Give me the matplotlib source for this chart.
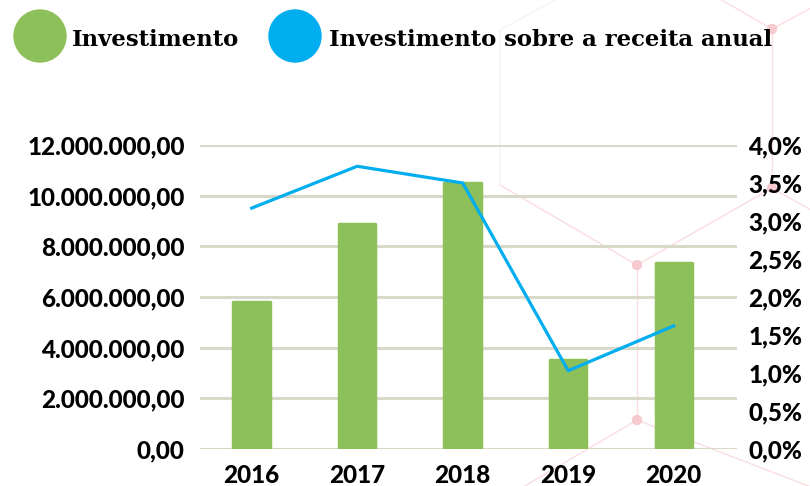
import matplotlib
matplotlib.use('Agg')
import matplotlib.pyplot as plt
from matplotlib.patches import Ellipse
from matplotlib.ticker import FuncFormatter, MultipleLocator

# dados
anos = ['2016', '2017', '2018', '2019', '2020']
investimento = [5800000, 8880000, 10490000, 3510000, 7360000]
percentual = [3.17, 3.72, 3.50, 1.03, 1.62]

verde = '#8dc05a'
azul = '#00aeef'
grade = '#d9d9ca'
rosa = '#f6c3c8'

plt.rcParams['font.family'] = ['Lato', 'DejaVu Sans']


def fmt_reais(v, pos):
    s = '{:,.2f}'.format(v)
    return s.replace(',', 'X').replace('.', ',').replace('X', '.')


def fmt_pct(v, pos):
    return '{:.1f}%'.format(v).replace('.', ',')


fig = plt.figure(figsize=(8.1, 4.86), dpi=100)

# linhas decorativas (hexagonos) no fundo
W, H = 810.0, 486.0
deco = [
    ((772, 29), (720, -1)), ((772, 29), (811, 8)), ((772, 29), (772, 188)),
    ((772, 188), (637, 265)), ((772, 188), (811, 210)),
    ((637, 265), (500, 185)), ((637, 265), (637, 420)),
    ((637, 420), (523, 487)), ((637, 420), (811, 487)),
]
for (x0, y0), (x1, y1) in deco:
    fig.add_artist(plt.Line2D([x0 / W, x1 / W], [1 - y0 / H, 1 - y1 / H],
                              color=rosa, lw=1, alpha=0.55, zorder=0))
fig.add_artist(plt.Line2D([500 / W, 500 / W, 555 / W], [1 - 185 / H, 1 - 30 / H, 1.0],
                          color='#f7f2f2', lw=1, zorder=0))
for (px, py) in [(772, 29), (772, 188), (637, 265), (637, 420)]:
    fig.add_artist(Ellipse((px / W, 1 - py / H), 9 / W, 9 / H, color=rosa, alpha=0.8, zorder=0))

ax = fig.add_axes([200 / W, 1 - 449 / H, 537 / W, 304 / H])
ax.patch.set_alpha(0)
x = list(range(len(anos)))
ax.bar(x, investimento, width=0.345, color=verde, edgecolor=verde,
       linewidth=2.5, joinstyle='round', zorder=3)
ax.set_ylim(0, 12000000)
ax.set_xlim(-0.49, 4.6)
ax.yaxis.set_major_locator(MultipleLocator(2000000))
ax.yaxis.set_major_formatter(FuncFormatter(fmt_reais))
ax.grid(axis='y', color=grade, lw=2.2, zorder=0)
ax.set_axisbelow(True)
ax.set_xticks(x)
ax.set_xticklabels(anos)
for s in ax.spines.values():
    s.set_visible(False)
ax.tick_params(length=0, labelsize=17.5)
ax.tick_params(axis='y', pad=11)
ax.tick_params(axis='x', pad=11)
for lbl in ax.get_xticklabels() + ax.get_yticklabels():
    lbl.set_fontweight('black')

ax2 = ax.twinx()
ax2.plot(x, percentual, color=azul, lw=2.3, zorder=4)
ax2.set_ylim(0, 4)
ax2.yaxis.set_major_locator(MultipleLocator(0.5))
ax2.yaxis.set_major_formatter(FuncFormatter(fmt_pct))
for s in ax2.spines.values():
    s.set_visible(False)
ax2.tick_params(length=0, labelsize=17.5, pad=8)
for lbl in ax2.get_yticklabels():
    lbl.set_fontweight('black')

# legenda
fig.add_artist(Ellipse((40 / W, 1 - 36 / H), 52 / W, 52 / H, color=verde))
fig.add_artist(Ellipse((295 / W, 1 - 36 / H), 52 / W, 52 / H, color=azul))
fig.text(72 / W, 1 - 40 / H, 'Investimento', fontsize=16.4, fontweight='bold',
         family=['DejaVu Serif'], va='center', ha='left')
fig.text(329 / W, 1 - 40 / H, 'Investimento sobre a receita anual', fontsize=16.4,
         fontweight='bold', family=['DejaVu Serif'], va='center', ha='left')

fig.savefig('out.png', dpi=100)
